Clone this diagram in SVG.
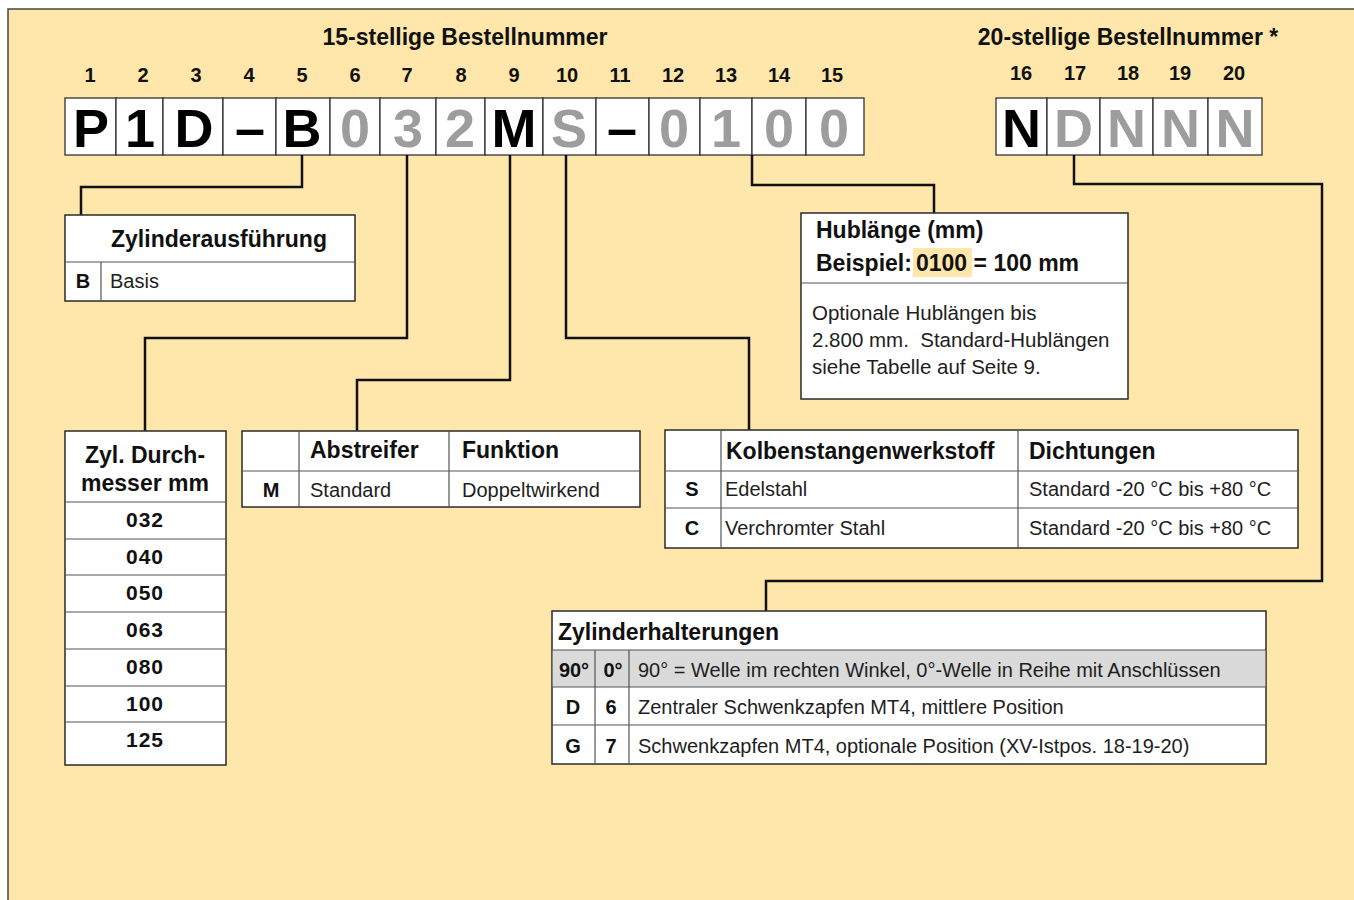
<svg xmlns="http://www.w3.org/2000/svg" width="1354" height="900" viewBox="0 0 1354 900">
<style>
text{font-family:"Liberation Sans",Arial,Helvetica,sans-serif}
.b{font-weight:bold}
.box{fill:#fff;stroke:#2a2a2a;stroke-width:1.5}
.cell{fill:#fff;stroke:#333;stroke-width:1.3}
.in{stroke:#555;stroke-width:1.2;fill:none}
.conn{fill:none;stroke:#111;stroke-width:2.5;stroke-linejoin:miter}
.big{font-size:54px;font-weight:bold;text-anchor:middle}
.g{fill:#9d9d9d}
.k{fill:#000}
.num{font-size:20px;font-weight:bold;text-anchor:middle;fill:#111}
.title{font-size:23px;font-weight:bold;text-anchor:middle;fill:#111}
.h{font-size:23px;font-weight:bold;fill:#111}
.r{font-size:20px;fill:#1e1e1e}
.kb{font-size:20px;font-weight:bold;text-anchor:middle;fill:#111}
.dia{font-size:21px;font-weight:bold;text-anchor:middle;fill:#111;letter-spacing:1px}
</style>
<rect x="0" y="0" width="1354" height="900" fill="#fff"/>
<rect x="8" y="9" width="1346" height="891" fill="#FFE6AA"/>
<path d="M8,900 V9 H1354" fill="none" stroke="#444" stroke-width="1.5"/>

<g id="header15">
<text class="title" x="465" y="45">15-stellige Bestellnummer</text>
<text class="num" x="90" y="82">1</text>
<text class="num" x="143" y="82">2</text>
<text class="num" x="196" y="82">3</text>
<text class="num" x="249" y="82">4</text>
<text class="num" x="302" y="82">5</text>
<text class="num" x="355" y="82">6</text>
<text class="num" x="407" y="82">7</text>
<text class="num" x="461" y="82">8</text>
<text class="num" x="514" y="82">9</text>
<text class="num" x="567" y="82">10</text>
<text class="num" x="620" y="82">11</text>
<text class="num" x="673" y="82">12</text>
<text class="num" x="726" y="82">13</text>
<text class="num" x="779" y="82">14</text>
<text class="num" x="832" y="82">15</text>
</g>

<g id="code15">
<rect class="cell" x="65" y="98" width="51" height="57"/>
<rect class="cell" x="116" y="98" width="47" height="57"/>
<rect class="cell" x="163" y="98" width="60" height="57"/>
<rect class="cell" x="223" y="98" width="53" height="57"/>
<rect class="cell" x="276" y="98" width="54" height="57"/>
<rect class="cell" x="330" y="98" width="50" height="57"/>
<rect class="cell" x="380" y="98" width="56" height="57"/>
<rect class="cell" x="436" y="98" width="49" height="57"/>
<rect class="cell" x="485" y="98" width="58" height="57"/>
<rect class="cell" x="543" y="98" width="53" height="57"/>
<rect class="cell" x="596" y="98" width="53" height="57"/>
<rect class="cell" x="649" y="98" width="51" height="57"/>
<rect class="cell" x="700" y="98" width="52" height="57"/>
<rect class="cell" x="752" y="98" width="54" height="57"/>
<rect class="cell" x="806" y="98" width="58" height="57"/>
<text class="big k" x="91" y="147">P</text>
<text class="big k" x="140" y="147">1</text>
<text class="big k" x="194" y="147">D</text>
<text class="big k" x="250" y="147">–</text>
<text class="big k" x="302" y="147">B</text>
<text class="big g" x="355" y="147">0</text>
<text class="big g" x="408" y="147">3</text>
<text class="big g" x="460" y="147">2</text>
<text class="big k" x="514" y="147">M</text>
<text class="big g" x="569" y="147">S</text>
<text class="big k" x="622" y="147">–</text>
<text class="big g" x="674" y="147">0</text>
<text class="big g" x="726" y="147">1</text>
<text class="big g" x="779" y="147">0</text>
<text class="big g" x="834" y="147">0</text>
</g>

<g id="header20">
<text class="title" x="1128" y="45">20-stellige Bestellnummer *</text>
<text class="num" x="1021" y="80">16</text>
<text class="num" x="1075" y="80">17</text>
<text class="num" x="1128" y="80">18</text>
<text class="num" x="1180" y="80">19</text>
<text class="num" x="1234" y="80">20</text>
</g>

<g id="code20">
<rect class="cell" x="996" y="98" width="51" height="57"/>
<rect class="cell" x="1047" y="98" width="53" height="57"/>
<rect class="cell" x="1100" y="98" width="53" height="57"/>
<rect class="cell" x="1153" y="98" width="55" height="57"/>
<rect class="cell" x="1208" y="98" width="54" height="57"/>
<text class="big k" x="1021.5" y="147">N</text>
<text class="big g" x="1073.5" y="147">D</text>
<text class="big g" x="1126.5" y="147">N</text>
<text class="big g" x="1180.5" y="147">N</text>
<text class="big g" x="1235" y="147">N</text>
</g>

<g id="connectors">
<path class="conn" d="M302,155 V187 H81 V215"/>
<path class="conn" d="M407,155 V338 H145 V431"/>
<path class="conn" d="M510,155 V380 H357 V431"/>
<path class="conn" d="M566,155 V338 H749 V430"/>
<path class="conn" d="M752,155 V185 H934 V213"/>
<path class="conn" d="M1074,155 V184 H1322 V581 H766 V611"/>
</g>

<g id="zylinderausfuehrung">
<rect class="box" x="65" y="215" width="290" height="86"/>
<line class="in" x1="65" y1="262" x2="355" y2="262"/>
<line class="in" x1="101" y1="262" x2="101" y2="301"/>
<text class="h" x="219" y="247" text-anchor="middle">Zylinderausführung</text>
<text class="kb" x="83" y="288">B</text>
<text class="r" x="110" y="288">Basis</text>
</g>

<g id="durchmesser">
<rect class="box" x="65" y="431" width="161" height="334"/>
<path class="in" d="M65,502 H226 M65,539 H226 M65,575 H226 M65,612 H226 M65,649 H226 M65,686 H226 M65,722 H226"/>
<text class="h" x="145" y="463" text-anchor="middle">Zyl. Durch-</text>
<text class="h" x="145" y="491" text-anchor="middle">messer mm</text>
<text class="dia" x="145" y="527">032</text>
<text class="dia" x="145" y="564">040</text>
<text class="dia" x="145" y="600">050</text>
<text class="dia" x="145" y="637">063</text>
<text class="dia" x="145" y="674">080</text>
<text class="dia" x="145" y="711">100</text>
<text class="dia" x="145" y="747">125</text>
</g>

<g id="abstreifer">
<rect class="box" x="242" y="431" width="398" height="76"/>
<path class="in" d="M242,471 H640 M299,431 V507 M449,431 V507"/>
<text class="h" x="310" y="458">Abstreifer</text>
<text class="h" x="462" y="458">Funktion</text>
<text class="kb" x="271" y="497">M</text>
<text class="r" x="310" y="497">Standard</text>
<text class="r" x="462" y="497">Doppeltwirkend</text>
</g>

<g id="kolbenstange">
<rect class="box" x="665" y="430" width="633" height="118"/>
<path class="in" d="M665,471 H1298 M665,508 H1298 M721,430 V548 M1018,430 V548"/>
<text class="h" x="726" y="459">Kolbenstangenwerkstoff</text>
<text class="h" x="1029" y="459">Dichtungen</text>
<text class="kb" x="692" y="496">S</text>
<text class="r" x="725" y="496">Edelstahl</text>
<text class="r" x="1029" y="496">Standard -20 °C bis +80 °C</text>
<text class="kb" x="692" y="535">C</text>
<text class="r" x="725" y="535">Verchromter Stahl</text>
<text class="r" x="1029" y="535">Standard -20 °C bis +80 °C</text>
</g>

<g id="hublaenge">
<rect class="box" x="801" y="213" width="327" height="186"/>
<line class="in" x1="801" y1="283" x2="1128" y2="283"/>
<rect x="913" y="248" width="59" height="29" fill="#FFE6AA"/>
<text class="h" x="816" y="238">Hublänge (mm)</text>
<text class="h" x="816" y="271">Beispiel:<tspan x="916">0100</tspan> = 100 mm</text>
<text class="r" x="812" y="320" style="font-size:20.5px">Optionale Hublängen bis</text>
<text class="r" x="812" y="347" style="font-size:20.5px">2.800 mm.&#160; Standard-Hublängen</text>
<text class="r" x="812" y="374" style="font-size:20.5px">siehe Tabelle auf Seite 9.</text>
</g>

<g id="halterungen">
<rect class="box" x="552" y="611" width="714" height="153"/>
<rect x="552.7" y="650" width="712.6" height="37" fill="#DADADA"/>
<path class="in" d="M552,650 H1266 M552,687 H1266 M552,725 H1266 M595,650 V764 M629,650 V764"/>
<text class="h" x="558" y="640">Zylinderhalterungen</text>
<text class="kb" x="574" y="677">90°</text>
<text class="kb" x="613" y="677">0°</text>
<text class="r" x="638" y="677">90° = Welle im rechten Winkel, 0°-Welle in Reihe mit Anschlüssen</text>
<text class="kb" x="573" y="714">D</text>
<text class="kb" x="611" y="714">6</text>
<text class="r" x="638" y="714">Zentraler Schwenkzapfen MT4, mittlere Position</text>
<text class="kb" x="573" y="753">G</text>
<text class="kb" x="611" y="753">7</text>
<text class="r" x="638" y="753">Schwenkzapfen MT4, optionale Position (XV-Istpos. 18-19-20)</text>
</g>
</svg>
